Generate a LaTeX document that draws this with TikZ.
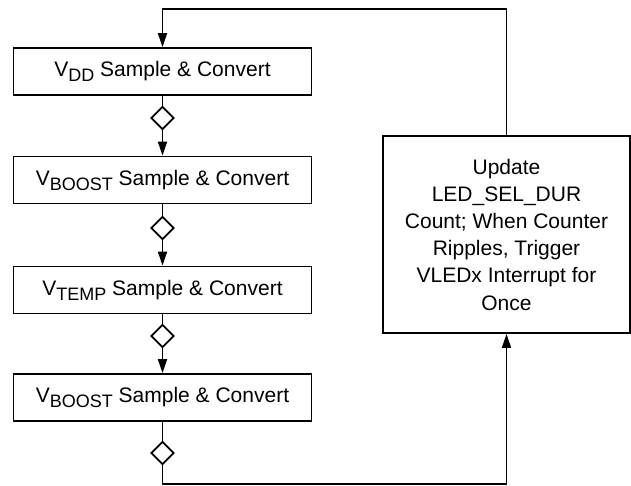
\documentclass[tikz,border=0pt]{standalone}
\usepackage{fontspec}
\setmainfont{Liberation Sans}
\usetikzlibrary{arrows.meta,shapes.geometric}
\newcommand{\sbs}[1]{\raisebox{-5pt}{\fontsize{18}{18}\selectfont #1}}
\begin{document}
\begin{tikzpicture}[x=1pt,y=-1pt,line width=1.8pt,
  stepbox/.style={draw,minimum width=298pt,minimum height=47pt,inner sep=0pt,font=\fontsize{21}{25}\selectfont},
  dia/.style={draw,diamond,minimum width=23pt,minimum height=23pt,inner sep=0pt,fill=white},
  bigbox/.style={draw,minimum width=247pt,minimum height=197pt,inner sep=0pt,align=center,font=\fontsize{21}{27.2}\selectfont},
  arr/.style={-{Triangle[length=14pt,width=9pt]}}]
\useasboundingbox (0,0) rectangle (631,485);
\node[stepbox] (b1) at (162.5,71.5) {V\sbs{DD} Sample \& Convert};
\node[stepbox] (b2) at (162.5,180) {V\sbs{BOOST} Sample \& Convert};
\node[stepbox] (b3) at (162.5,290) {V\sbs{TEMP} Sample \& Convert};
\node[stepbox] (b4) at (162.5,397.5) {V\sbs{BOOST} Sample \& Convert};
\node[dia] (d1) at (162.5,118) {};
\node[dia] (d2) at (162.5,228) {};
\node[dia] (d3) at (162.5,336) {};
\node[dia] (d4) at (162.5,453) {};
\node[bigbox] (rb) at (506.5,234.5) {Update\\LED\_SEL\_DUR\\Count; When Counter\\Ripples, Trigger\\VLEDx Interrupt for\\Once};
\draw (b1) -- (d1);
\draw[arr] (d1) -- (b2);
\draw (b2) -- (d2);
\draw[arr] (d2) -- (b3);
\draw (b3) -- (d3);
\draw[arr] (d3) -- (b4);
\draw (b4) -- (d4);
\draw[arr] (d4.south) -- ++(0,18.5) -| (rb.south);
\draw[arr] (rb.north) -- ++(0,-126) -| (b1.north);
\end{tikzpicture}
\end{document}
